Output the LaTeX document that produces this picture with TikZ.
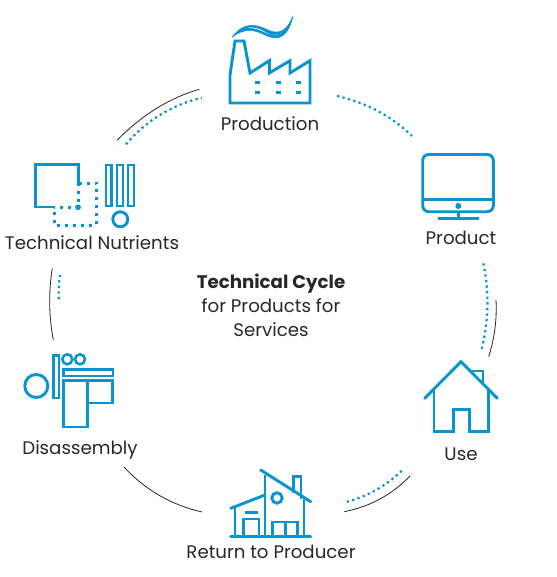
\documentclass[tikz,border=0pt]{standalone}
\usepackage{fontspec}
\usetikzlibrary{calc}
\setmainfont{Poppins}
\definecolor{iconblue}{RGB}{8,148,208}
\definecolor{txt}{RGB}{40,40,40}
\tikzset{
 icon/.style={draw=iconblue,line width=2.9pt,line join=miter,fill=none},
 thinicon/.style={draw=iconblue,line width=2.6pt},
 solidarc/.style={draw=black!85,line width=0.8pt},
 dotarc/.style={draw=iconblue,line width=2.2pt,dash pattern=on 2.3pt off 3.3pt},
 label/.style={font=\fontsize{18.2}{22}\selectfont,text=txt,inner sep=0pt,anchor=base},
 dotsq/.style={draw=iconblue,line width=3pt,dash pattern=on 3pt off 5pt},
}
\newcommand{\qarc}[4]{\draw[#1] (#2) .. controls ($(#2)!.667!(#3)$) and ($(#4)!.667!(#3)$) .. (#4);}
\begin{document}
\begin{tikzpicture}[x=1pt,y=-1pt]
\useasboundingbox (0,0) rectangle (556,577);
\fill[white] (0,0) rectangle (556,577);
% labels
\node[label] (production) at (270,131) {Production};
\node[label] (product) at (461,244) {Product};
\node[label] (use) at (461,460) {Use};
\node[label] (return) at (271,558.5) {Return to Producer};
\node[label] (disassembly) at (80,454) {Disassembly};
\node[label] (nutrients) at (92,249) {Technical Nutrients};
\node[label,font=\fontsize{18.2}{22}\selectfont\bfseries] (c1) at (271,288) {Technical Cycle};
\node[label] (c2) at (271,312) {for Products for};
\node[label] (c3) at (271,336) {Services};
% arcs
\coordinate (a1) at (117.3,140); \coordinate (a2) at (199.3,89.3);
\coordinate (b1) at (126,144.3); \coordinate (b2) at (201.7,97.7);
\coordinate (c1a) at (337,96); \coordinate (c2a) at (412,136);
\coordinate (d1) at (483.3,263.3); \coordinate (d2) at (481,351.7);
\coordinate (e1) at (496,300); \coordinate (e2) at (488.7,356.7);
\coordinate (f1) at (401.7,470.7); \coordinate (f2) at (345,502.3);
\coordinate (g1) at (410,476); \coordinate (g2) at (344.3,511.7);
\coordinate (h1) at (202,512); \coordinate (h2) at (124,467);
\coordinate (i1) at (53.3,340); \coordinate (i2) at (52.3,268.3);
\coordinate (j1) at (58.7,299.3); \coordinate (j2) at (60,275);
\qarc{solidarc}{a1}{155,102}{a2}
\qarc{dotarc}{b1}{156,109}{b2}
\qarc{dotarc}{c1a}{381,106}{c2a}
\qarc{dotarc}{d1}{492.6,307}{d2}
\qarc{solidarc}{e1}{497.5,329}{e2}
\qarc{dotarc}{f1}{377.7,494}{f2}
\qarc{solidarc}{g1}{383,504}{g2}
\qarc{solidarc}{h1}{156,501.5}{h2}
\qarc{solidarc}{i1}{46.6,304}{i2}
\qarc{dotarc}{j1}{58.3,287}{j2}
% factory
\draw[icon] (235,41) -- (244,41) -- (250,73) -- (269.3,60.7) -- (269.3,73) -- (290,60.7) -- (290,73) -- (310,60.7) -- (310,103) -- (230,103) -- (230,75) -- cycle;
\foreach \x in {257,278,298}\foreach \y in {82.3,92.3}
  \fill[iconblue] (\x-2.5,\y-1.6) rectangle (\x+2.5,\y+1.6);
\draw[draw=iconblue,fill=iconblue,line width=0.6pt,line join=round,even odd rule]
 (232,37.3) .. controls (245,20) and (258,25) .. (270,31) .. controls (282,35) and (288,28) .. (293,16) .. controls (288,36) and (280,42) .. (265,35) .. controls (255,30) and (245,27) .. (232,37.3)
 (242,29.5) .. controls (250,25) and (258,27) .. (268,33) .. controls (276,37) and (282,33) .. (287,27) .. controls (282,36) and (274,38) .. (264,32.5) .. controls (255,28) and (248,27.5) .. (242,29.5);
% nutrients
\draw[icon] (55,207) -- (35.5,207) -- (35.5,164.5) -- (78.7,164.5) -- (78.7,183);
\draw[dotsq] (78.7,183.3) -- (96.7,183.3) -- (96.7,225) -- (54.3,225) -- (54.3,207.3);
\draw[dotsq] (78.7,183.3) -- (78.7,207.3) -- (54.3,207.3);
\fill[iconblue] (78,207.3) circle[radius=2.9pt];
\draw[icon] (106,165) rectangle (111.7,206);
\draw[icon] (117,165) rectangle (123,206);
\draw[icon] (128,165) rectangle (134,206);
\draw[icon] (120.3,219.3) circle[radius=7.5pt];
% disassembly
\draw[icon] (36.3,386) circle[radius=11.5pt];
\draw[icon] (53.2,355.3) rectangle (59,398);
\draw[thinicon] (67.3,359.3) circle[radius=5pt];
\draw[thinicon] (80,359.3) circle[radius=5pt];
\draw[thinicon] (63.5,369.6) rectangle (113,376);
\draw[icon] (63.7,380.5) rectangle (87.3,427);
\draw[icon] (87.3,380.5) rectangle (112.5,403);
% return house
\draw[icon,line cap=round] (260.7,470) -- (310.7,501.7);
\draw[icon] (265,475) -- (265,536);
\draw[icon,line cap=round] (230.7,508.3) -- (265,495);
\draw[icon] (235,506.7) -- (235,536.7);
\draw[icon,line cap=round] (230.7,536.7) -- (310.7,536.7);
\draw[icon] (304,498) -- (304,536.7);
\draw[icon] (293.3,492.5) -- (293.3,476.7) -- (301,476.7) -- (301,499);
\draw[icon] (277,498) circle[radius=5.2pt];
\draw[icon] (243.3,536.7) -- (243.3,519) -- (259,519) -- (259,536.7);
\draw[icon] (245,512.3) -- (257.7,512.3);
\draw[icon] (272.3,536.7) -- (272.3,522) -- (297.7,522) -- (297.7,536.7);
\draw[icon] (285.7,522) -- (285.7,536.7);
% home
\draw[icon,line cap=round] (424.7,398.3) -- (461,361.7) -- (497.3,398.3);
\draw[icon] (434,389.3) -- (434,431.7) -- (453.3,431.7) -- (453.3,409.3) -- (469.3,409.3) -- (469.3,431.7) -- (488.3,431.7) -- (488.3,389.3);
\draw[icon] (471,371) -- (483,371) -- (483,385);
% monitor
\draw[icon,rounded corners=6pt] (422.7,154.5) rectangle (493.3,211.7);
\draw[icon] (422.7,199.3) -- (493.3,199.3);
\fill[iconblue] (458.3,206) circle[radius=3pt];
\draw[icon] (458.3,211.7) -- (458.3,218.3);
\draw[icon] (437.7,218.3) -- (479,218.3);
\end{tikzpicture}
\end{document}
